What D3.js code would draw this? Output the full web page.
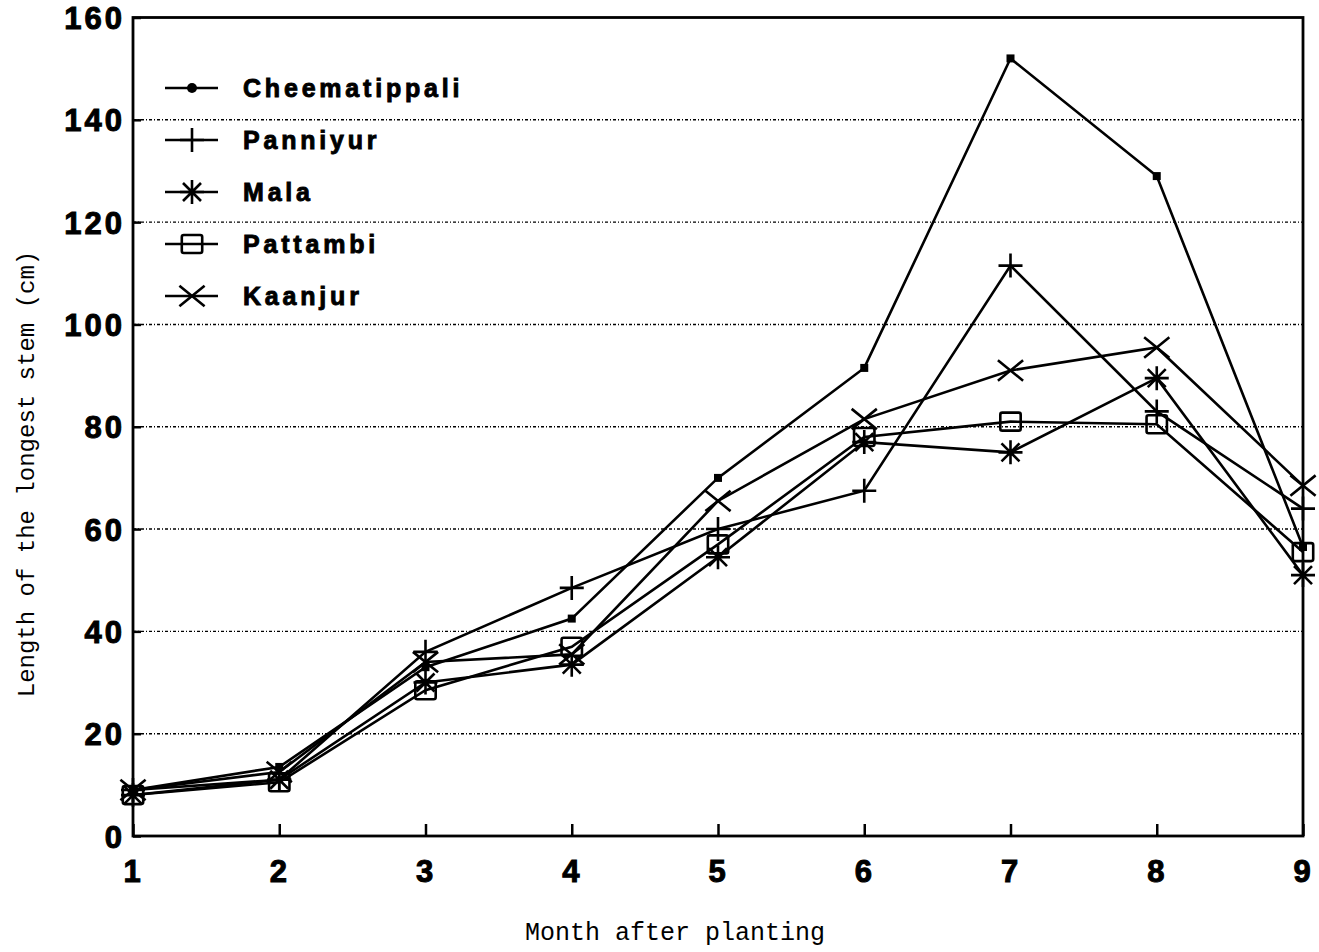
<!DOCTYPE html>
<html><head><meta charset="utf-8">
<script src="https://cdn.jsdelivr.net/npm/d3@7"></script>
<style>body{margin:0;background:#fff}</style>
</head><body><svg id="c" width="1319" height="952"></svg>
<script>
const months = [1,2,3,4,5,6,7,8,9];
const yTicks = [0,20,40,60,80,100,120,140,160];
const seriesNames = ["Cheematippali","Panniyur","Mala","Pattambi","Kaanjur"];
const cheematippali = [9,13.5,33,42.5,70,91.5,152,129,56.5];
const panniyur = [9,11,36,48.5,60,67.5,111.5,83,64];
const mala = [8,11,30,33.5,54.5,77,75,89.5,51];
const pattambi = [8,10.5,28.5,37,57,78,81,80.5,55.5];
const kaanjur = [9,12.5,34,35.5,65.5,81.5,91,95.5,68.5];
const seriesValues = [cheematippali,panniyur,mala,pattambi,kaanjur];
const markers = ["dot","plus","asterisk","square","cross"];

const svg = d3.select("#c");
const x = d3.scaleLinear().domain([1,9]).range([133,1303]);
const y = d3.scaleLinear().domain([0,160]).range([836,17.5]);

// grid
svg.append("g").selectAll("line").data(yTicks.filter(d=>d>0&&d<160)).join("line")
  .attr("x1",133).attr("x2",1303).attr("y1",d=>y(d)).attr("y2",d=>y(d))
  .attr("stroke","#000").attr("stroke-width",1.4).attr("stroke-dasharray","3,2,1,2");

// frame
svg.append("rect").attr("x",133).attr("y",y(160)).attr("width",1303-133).attr("height",y(0)-y(160))
  .attr("fill","none").attr("stroke","#000").attr("stroke-width",2.8);

// axes
const xAxis = d3.axisBottom(x).tickValues(months).tickSize(-12).tickPadding(24).tickFormat(d3.format("d"));
const gx = svg.append("g").attr("transform",`translate(0,${y(0)})`).call(xAxis);
const yAxis = d3.axisLeft(y).tickValues(yTicks).tickSize(-8).tickPadding(8);
const gy = svg.append("g").attr("transform",`translate(133,0)`).call(yAxis);
[gx,gy].forEach(g=>{
  g.select(".domain").remove();
  g.selectAll(".tick line").attr("stroke","#000").attr("stroke-width",2.5);
  g.selectAll("text").attr("font-family","'Liberation Sans',Arial,sans-serif").attr("font-weight","bold")
   .attr("font-size",31).attr("letter-spacing",3).attr("fill","#000")
   .attr("stroke","#000").attr("stroke-width",1);
});
gy.selectAll("text").attr("dy","0.36em");

// marker drawing
function drawMarker(g, type, cx, cy, s, legend){
  const p = d3.path();
  const sw = 2.6;
  if(type==="dot"){
    if(legend) g.append("circle").attr("cx",cx).attr("cy",cy).attr("r",5).attr("fill","#000");
    else g.append("rect").attr("x",cx-4).attr("y",cy-4).attr("width",8).attr("height",8).attr("fill","#000");
    return;
  }
  if(type==="plus"){
    p.moveTo(cx-s,cy);p.lineTo(cx+s,cy);p.moveTo(cx,cy-s);p.lineTo(cx,cy+s);
  } else if(type==="asterisk"){
    p.moveTo(cx-s,cy);p.lineTo(cx+s,cy);p.moveTo(cx,cy-s);p.lineTo(cx,cy+s);
    const d=s*0.75;
    p.moveTo(cx-d,cy-d);p.lineTo(cx+d,cy+d);p.moveTo(cx-d,cy+d);p.lineTo(cx+d,cy-d);
  } else if(type==="cross"){
    const dx=s*1.05, dy=s*0.85;
    p.moveTo(cx-dx,cy-dy);p.lineTo(cx+dx,cy+dy);p.moveTo(cx-dx,cy+dy);p.lineTo(cx+dx,cy-dy);
  } else if(type==="square"){
    g.append("rect").attr("x",cx-s*0.85).attr("y",cy-s*0.75).attr("width",s*1.7).attr("height",s*1.5)
      .attr("rx",2).attr("fill","none").attr("stroke","#000").attr("stroke-width",sw);
    return;
  }
  g.append("path").attr("d",p.toString()).attr("stroke","#000").attr("stroke-width",sw).attr("fill","none");
}

const line = d3.line().x((d,i)=>x(months[i])).y(d=>y(d));
seriesValues.forEach((vals,si)=>{
  const g = svg.append("g");
  g.append("path").attr("d",line(vals)).attr("fill","none").attr("stroke","#000").attr("stroke-width",2.6);
  vals.forEach((v,i)=>drawMarker(g,markers[si],x(months[i]),y(v),12,false));
});

// legend
const lg = svg.append("g");
seriesNames.forEach((n,i)=>{
  const cy = 88 + i*52;
  lg.append("line").attr("x1",165).attr("x2",218).attr("y1",cy).attr("y2",cy).attr("stroke","#000").attr("stroke-width",2.6);
  drawMarker(lg,markers[i],192,cy,12,true);
  lg.append("text").attr("x",243).attr("y",cy).attr("dy","0.36em").text(n)
    .attr("font-family","'Liberation Sans',Arial,sans-serif").attr("font-weight","bold").attr("font-size",25)
    .attr("letter-spacing",3.8).attr("stroke","#000").attr("stroke-width",0.9);
});

// axis titles
svg.append("text").attr("x",675).attr("y",940).attr("text-anchor","middle").text("Month after planting")
  .attr("font-family","'Liberation Mono','DejaVu Sans Mono',monospace").attr("font-size",25);
svg.append("text").attr("transform","translate(34,474) rotate(-90)").attr("text-anchor","middle")
  .text("Length of the longest stem (cm)")
  .attr("font-family","'Liberation Mono','DejaVu Sans Mono',monospace").attr("font-size",24);
</script></body></html>
